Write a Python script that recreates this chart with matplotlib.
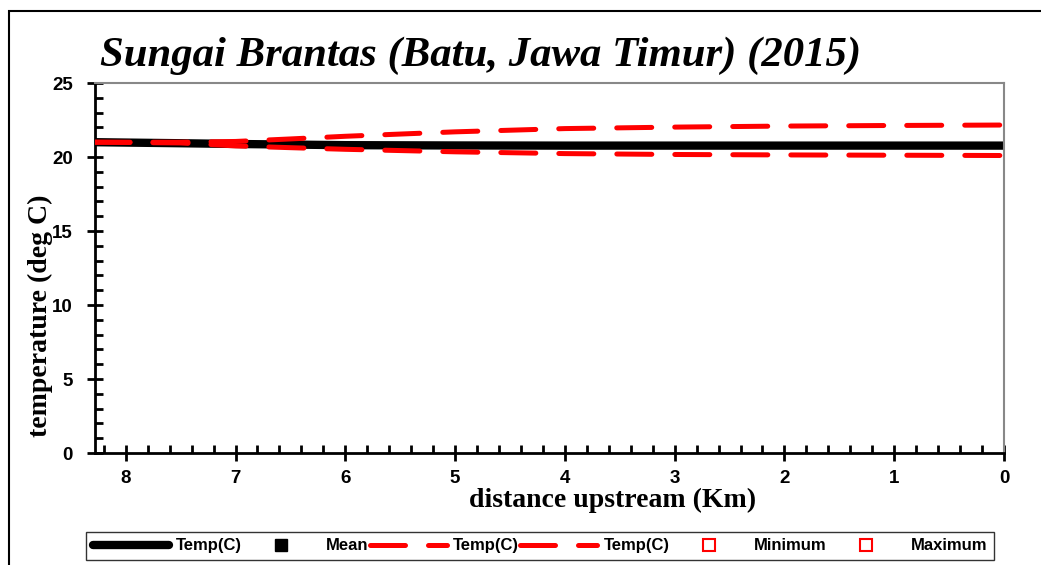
import matplotlib
matplotlib.use("Agg")
import matplotlib.pyplot as plt
from matplotlib.lines import Line2D
from matplotlib.patches import Rectangle
from matplotlib import font_manager as fm
from matplotlib.ticker import MultipleLocator

# ---- data ----
dist_km = [8.28, 7.5, 7.0, 6.5, 6.0, 5.0, 4.0, 3.0, 2.0, 1.0, 0.0]
temp_mean = [21.0, 20.93, 20.88, 20.84, 20.80, 20.78, 20.77, 20.77, 20.77, 20.77, 20.77]
temp_max = [21.0, 21.0, 21.05, 21.22, 21.40, 21.70, 21.92, 22.02, 22.09, 22.13, 22.16]
temp_min = [21.0, 20.95, 20.75, 20.63, 20.52, 20.35, 20.23, 20.17, 20.14, 20.12, 20.10]
x_ticks = [8, 7, 6, 5, 4, 3, 2, 1, 0]
y_ticks = [0, 5, 10, 15, 20, 25]
legend_labels = ["Temp(C)", "Mean", "Temp(C)", "Temp(C)", "Minimum", "Maximum"]
title = "Sungai Brantas (Batu, Jawa Timur) (2015)"

names = {f.name for f in fm.fontManager.ttflist}
narrow = "Liberation Sans Narrow" if "Liberation Sans Narrow" in names else "Liberation Sans"
serif = "Liberation Serif"

W, H = 1041, 565
fig = plt.figure(figsize=(W / 100, H / 100), dpi=100)

# outer border
fig.patches.append(Rectangle((9 / W, -0.1), 1.2, (H - 11) / H + 0.1, transform=fig.transFigure,
                             fill=False, edgecolor="black", linewidth=1.5))

ax = fig.add_axes([95 / W, (H - 453) / H, (1004 - 95) / W, (453 - 83) / H])

ax.plot(dist_km, temp_mean, color="black", lw=6, solid_capstyle="butt", zorder=2)
ax.plot(dist_km, temp_max, color="red", lw=3.6, dashes=(7, 4.6), dash_capstyle="round", zorder=3)
ax.plot(dist_km, temp_min, color="red", lw=3.6, dashes=(7, 4.6), dash_capstyle="round", zorder=3)

ax.set_xlim(8.28, 0)
ax.set_ylim(0, 25)
ax.set_xticks(x_ticks)
ax.set_yticks(y_ticks)
ax.xaxis.set_minor_locator(MultipleLocator(0.2))
ax.yaxis.set_minor_locator(MultipleLocator(1))

for s in ["top", "right"]:
    ax.spines[s].set_color("#888888")
    ax.spines[s].set_linewidth(1.5)
for s in ["left", "bottom"]:
    ax.spines[s].set_color("black")
    ax.spines[s].set_linewidth(2)

ax.tick_params(axis="both", which="major", direction="inout", length=12, width=2, color="black")
ax.tick_params(axis="both", which="minor", direction="in", length=6, width=2, color="black")
ax.tick_params(axis="x", which="major", pad=6)
ax.tick_params(axis="y", which="major", pad=10)
for lab in ax.get_xticklabels() + ax.get_yticklabels():
    lab.set_fontfamily(narrow)
    lab.set_fontweight("bold")
    lab.set_fontsize(13.5)

fig.text(100 / W, (H - 56) / H, title, fontfamily=serif, fontweight="bold", fontstyle="italic",
         fontsize=30.8, ha="left", va="center")
fig.text(40 / W, (H - 316) / H, "temperature (deg C)", fontfamily=serif, fontweight="bold",
         fontsize=20, rotation=90, ha="center", va="center")
fig.text(613 / W, (H - 500) / H, "distance upstream (Km)", fontfamily=serif, fontweight="bold",
         fontsize=20, ha="center", va="center")

handles = [
    Line2D([], [], color="black", lw=6, solid_capstyle="round"),
    Line2D([], [], color="black", marker="s", ls="none", markersize=9),
    Line2D([], [], color="red", lw=3.6, dashes=(7, 4.6), dash_capstyle="round"),
    Line2D([], [], color="red", lw=3.6, dashes=(7, 4.6), dash_capstyle="round"),
    Line2D([], [], color="red", marker="s", ls="none", markersize=8, markerfacecolor="white", markeredgewidth=1.5),
    Line2D([], [], color="red", marker="s", ls="none", markersize=8, markerfacecolor="white", markeredgewidth=1.5),
]
leg = fig.legend(handles, legend_labels, loc="lower left",
                 bbox_to_anchor=(86 / W, (H - 560) / H, (994 - 86) / W, 47 / H),
                 mode="expand", ncol=6, frameon=True, fancybox=False, handlelength=4.6,
                 handletextpad=0.4, columnspacing=0.5, borderaxespad=0,
                 prop={"family": narrow, "weight": "bold", "size": 12})
leg.get_frame().set_edgecolor("black")
leg.get_frame().set_linewidth(1)

fig.savefig("out.png", dpi=100)
